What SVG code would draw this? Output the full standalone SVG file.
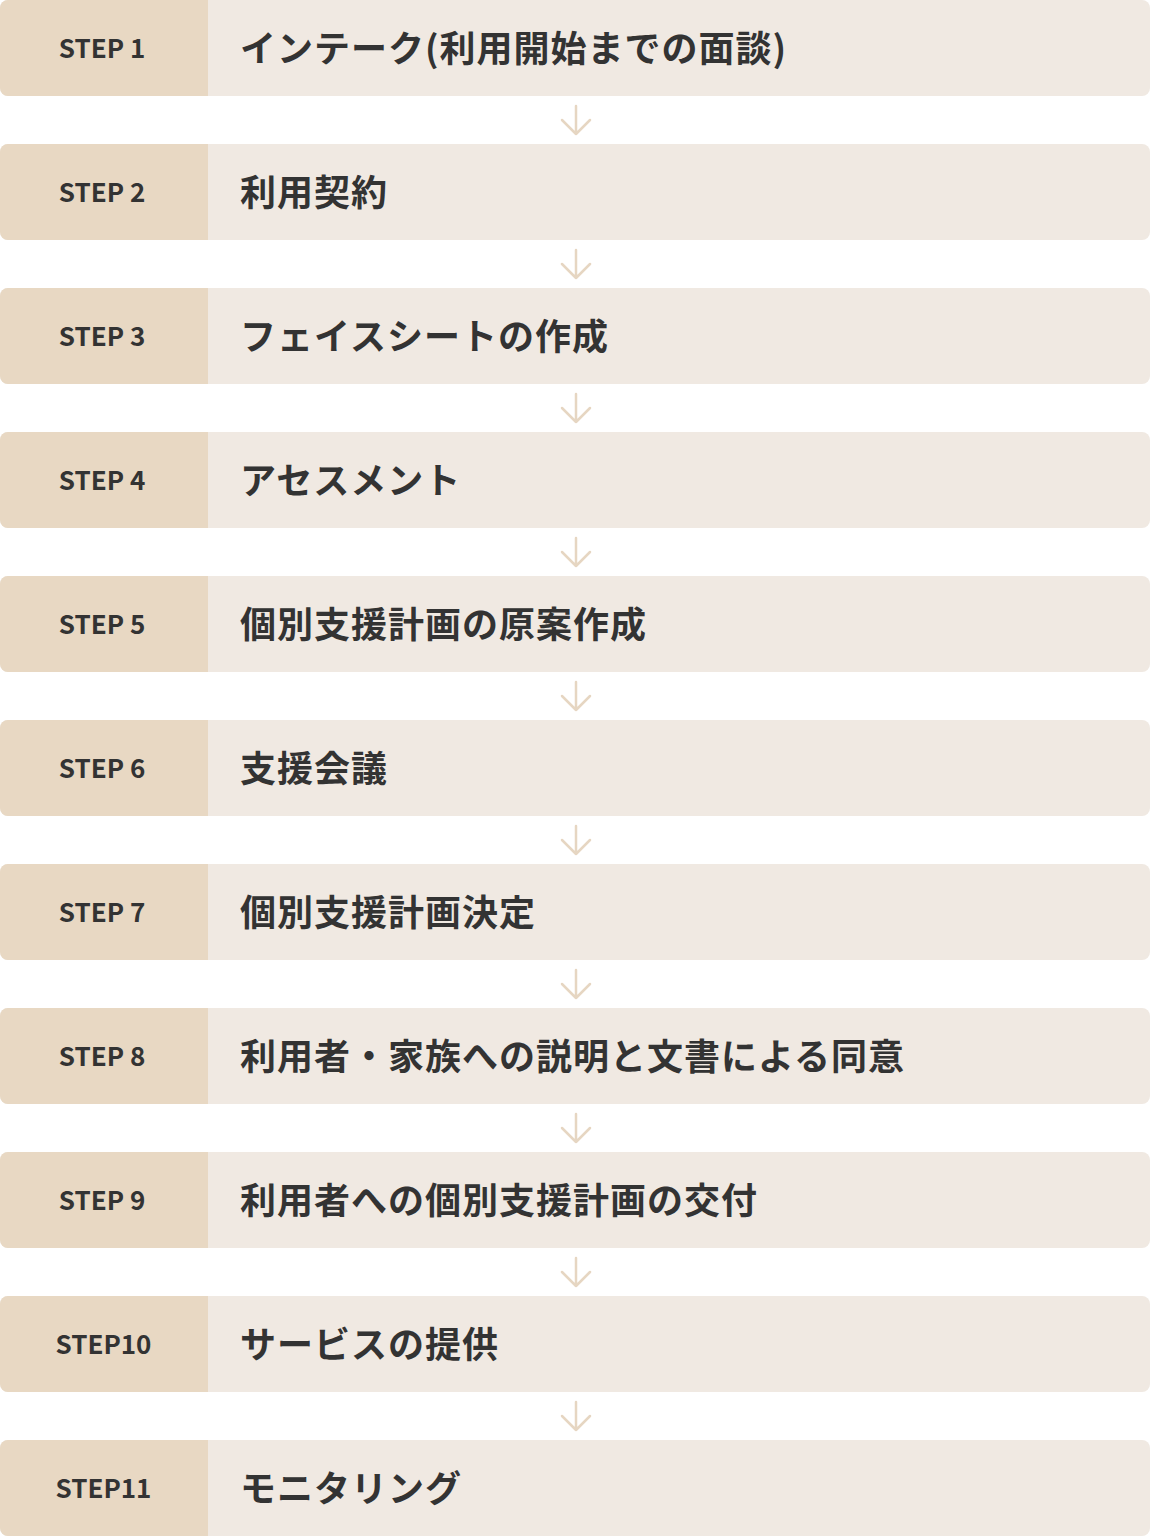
<svg xmlns="http://www.w3.org/2000/svg" width="1150" height="1536" viewBox="0 0 1150 1536">
<style>
.row{fill:#f0e9e2}
.lab{fill:#e8d8c3}
.st{font-family:"Noto Sans CJK JP","Noto Sans",sans-serif;font-weight:700;font-size:26px;fill:#333333;text-anchor:middle}
.tx{font-family:"Noto Sans CJK JP",sans-serif;font-weight:700;font-size:36px;fill:#333333;letter-spacing:1px}
.ar{fill:none;stroke:#e6d6c2;stroke-width:2.5;stroke-linecap:round;stroke-linejoin:round}
</style>
<defs>
<path id="lb" d="M8,0 H208 V96 H8 A8,8 0 0 1 0,88 V8 A8,8 0 0 1 8,0 Z"/>
<g id="arw"><path d="M576,106 V134 M562,120 L576,134 L590,120"/></g>
</defs>
<g id="connectors" class="ar">
<use href="#arw" y="0"/>
<use href="#arw" y="144"/>
<use href="#arw" y="288"/>
<use href="#arw" y="432"/>
<use href="#arw" y="576"/>
<use href="#arw" y="720"/>
<use href="#arw" y="864"/>
<use href="#arw" y="1008"/>
<use href="#arw" y="1152"/>
<use href="#arw" y="1296"/>
</g>
<g id="step1" transform="translate(0,0)"><rect class="row" width="1150" height="96" rx="8"/><use class="lab" href="#lb"/><text class="st" x="102" y="58">STEP 1</text><text class="tx" x="240" y="62">インテーク(利用開始までの面談)</text></g>
<g id="step2" transform="translate(0,144)"><rect class="row" width="1150" height="96" rx="8"/><use class="lab" href="#lb"/><text class="st" x="102" y="58">STEP 2</text><text class="tx" x="240" y="62">利用契約</text></g>
<g id="step3" transform="translate(0,288)"><rect class="row" width="1150" height="96" rx="8"/><use class="lab" href="#lb"/><text class="st" x="102" y="58">STEP 3</text><text class="tx" x="240" y="62">フェイスシートの作成</text></g>
<g id="step4" transform="translate(0,432)"><rect class="row" width="1150" height="96" rx="8"/><use class="lab" href="#lb"/><text class="st" x="102" y="58">STEP 4</text><text class="tx" x="240" y="62">アセスメント</text></g>
<g id="step5" transform="translate(0,576)"><rect class="row" width="1150" height="96" rx="8"/><use class="lab" href="#lb"/><text class="st" x="102" y="58">STEP 5</text><text class="tx" x="240" y="62">個別支援計画の原案作成</text></g>
<g id="step6" transform="translate(0,720)"><rect class="row" width="1150" height="96" rx="8"/><use class="lab" href="#lb"/><text class="st" x="102" y="58">STEP 6</text><text class="tx" x="240" y="62">支援会議</text></g>
<g id="step7" transform="translate(0,864)"><rect class="row" width="1150" height="96" rx="8"/><use class="lab" href="#lb"/><text class="st" x="102" y="58">STEP 7</text><text class="tx" x="240" y="62">個別支援計画決定</text></g>
<g id="step8" transform="translate(0,1008)"><rect class="row" width="1150" height="96" rx="8"/><use class="lab" href="#lb"/><text class="st" x="102" y="58">STEP 8</text><text class="tx" x="240" y="62">利用者・家族への説明と文書による同意</text></g>
<g id="step9" transform="translate(0,1152)"><rect class="row" width="1150" height="96" rx="8"/><use class="lab" href="#lb"/><text class="st" x="102" y="58">STEP 9</text><text class="tx" x="240" y="62">利用者への個別支援計画の交付</text></g>
<g id="step10" transform="translate(0,1296)"><rect class="row" width="1150" height="96" rx="8"/><use class="lab" href="#lb"/><text class="st" x="103.5" y="58">STEP10</text><text class="tx" x="240" y="62">サービスの提供</text></g>
<g id="step11" transform="translate(0,1440)"><rect class="row" width="1150" height="96" rx="8"/><use class="lab" href="#lb"/><text class="st" x="103.5" y="58">STEP11</text><text class="tx" x="240" y="62">モニタリング</text></g>
</svg>
